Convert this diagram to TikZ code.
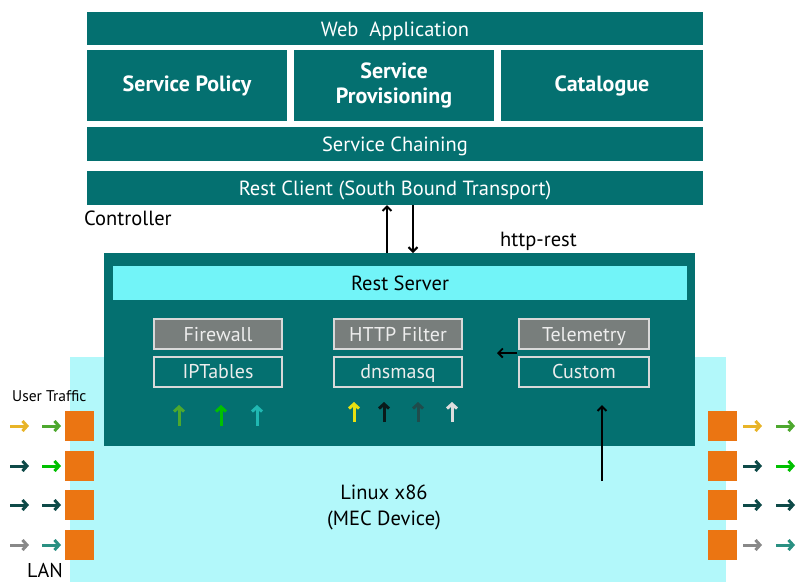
\documentclass[tikz,border=0pt]{standalone}
\usepackage{fontspec}
\setmainfont{PT Sans}
\usetikzlibrary{arrows.meta}
\definecolor{teal1}{HTML}{047070}
\definecolor{lcyan}{HTML}{B2F8FA}
\definecolor{mcyan}{HTML}{72F4F8}
\definecolor{gbox}{HTML}{787E7C}
\definecolor{gline}{HTML}{D9D9D9}
\definecolor{orng}{HTML}{EB7512}
\definecolor{cyel}{HTML}{E8B428}
\definecolor{cgrn}{HTML}{4DA82E}
\definecolor{cgrn2}{HTML}{00C000}
\definecolor{cdark}{HTML}{0E4A48}
\definecolor{cgray}{HTML}{888888}
\definecolor{cteal}{HTML}{2A9082}
\definecolor{cturq}{HTML}{20B8B2}
\definecolor{cyel2}{HTML}{E8E010}
\definecolor{cblk}{HTML}{0A1A1A}
\definecolor{cdt}{HTML}{1F4C4C}
\definecolor{clg}{HTML}{DDDDDD}
\tikzset{
  box/.style={fill=teal1, text=white, inner sep=0pt, outer sep=0pt, anchor=north west, align=center, font=\fontsize{20.5}{23}\selectfont, text height=15pt, text depth=0pt},
  boldbox/.style={box, font=\fontsize{22}{25}\selectfont\bfseries, text height=, text depth=},
  inbox/.style={draw=gline, line width=2pt, inner sep=0pt, outer sep=0pt, text=white!93!black, minimum width=128pt, minimum height=30pt, font=\fontsize{20}{22}\selectfont, text height=14pt, text depth=0pt},
  arr/.style={-{Straight Barb[length=4.5pt,width=9pt]}, line width=2pt, black},
  sarr/.style={-{Straight Barb[length=4.5pt,width=10pt]}, line width=3pt},
  lbl/.style={inner sep=0pt, font=\fontsize{20.5}{26}\selectfont},
  sq/.style={fill=orng, inner sep=0pt, outer sep=0pt, minimum width=29pt, minimum height=30pt, anchor=north west}
}
\begin{document}
\begin{tikzpicture}[x=1pt,y=-1pt]
\useasboundingbox (0,0) rectangle (805,582);
% background
\fill[lcyan] (70,357) rectangle (726,582);
% controller stack
\node[box, minimum width=616pt, minimum height=33pt] (web) at (87,12) {Web\ \ Application};
\node[boldbox, minimum width=200pt, minimum height=71pt] (pol) at (87,50) {Service Policy};
\node[boldbox, minimum width=200pt, minimum height=71pt] (prov) at (294,50) {Service\\Provisioning};
\node[boldbox, minimum width=202pt, minimum height=71pt] (cat) at (501,50) {Catalogue};
\node[box, minimum width=616pt, minimum height=34pt] (chain) at (87,127) {Service Chaining};
\node[box, minimum width=616pt, minimum height=34pt] (rc) at (87,171) {Rest Client (South Bound Transport)};
\node[lbl, anchor=west] (ctl) at (84,218) {Controller};
\node[lbl, anchor=west] (http) at (500,241) {http-rest};
% MEC box
\node[fill=teal1, inner sep=0pt, outer sep=0pt, anchor=north west, minimum width=591pt, minimum height=193pt] (mec) at (104,253) {};
\node[fill=mcyan, inner sep=0pt, outer sep=0pt, anchor=north west, minimum width=574pt, minimum height=34pt, font=\fontsize{20.5}{23}\selectfont, text height=15pt, text depth=0pt] (rs) at (113,266) {Rest Server};
\draw[arr] (mec.north -| 387,0) -- (rc.south -| 387,0);
\draw[arr] (rc.south -| 413,0) -- (mec.north -| 413,0);
% inner boxes
\node[inbox, fill=gbox] (fw) at (218,334) {Firewall};
\node[inbox, fill=teal1] (ipt) at (218,371.5) {IPTables};
\node[inbox, fill=gbox] (hf) at (398,334) {HTTP Filter};
\node[inbox, fill=teal1] (dns) at (398,371.5) {dnsmasq};
\node[inbox, fill=gbox, minimum width=130pt] (tel) at (584,334) {Telemetry};
\node[inbox, fill=teal1, minimum width=130pt] (cus) at (584,371.5) {Custom};
\coordinate (la) at (497,353);
\draw[arr, line width=1.8pt] (tel.west |- la) ++(-2,0) -- (la);
\coordinate (ua) at (602,405);
\draw[arr] (602,481) -- (ua);
% small arrows
\draw[sarr, cgrn] (179,426) -- (179,405);
\draw[sarr, cgrn2] (221,426) -- (221,405);
\draw[sarr, cturq] (257,426) -- (257,405);
\draw[sarr, cyel2] (354,422) -- (354,402);
\draw[sarr, cblk] (384,422) -- (384,402);
\draw[sarr, cdt] (418,422) -- (418,402);
\draw[sarr, clg] (452,422) -- (452,402);
% text
\node[lbl, align=center] (lx) at (384,507) {Linux x86\\(MEC Device)};
\node[inner sep=0pt, font=\fontsize{15.5}{18}\selectfont, anchor=west] (ut) at (12,396) {User Traffic};
\node[inner sep=0pt, font=\fontsize{20}{22}\selectfont, anchor=base west] (lan) at (27,577) {LAN};
% orange squares
\foreach \y/\n in {411/1,451/2,490/3,530/4}{
  \node[sq] (l\n) at (65,\y) {};
  \node[sq] (r\n) at (708,\y) {};
}
% traffic arrows
\foreach \n/\ca/\cb in {1/cyel/cgrn, 2/cdark/cgrn2, 3/cdark/cdark, 4/cgray/cteal}{
  \draw[sarr, \ca] ([xshift=-55pt]l\n.west) -- ++(19,0);
  \draw[sarr, \cb] ([xshift=-23pt]l\n.west) -- ++(19,0);
  \draw[sarr, \ca] ([xshift=6pt]r\n.east) -- ++(19,0);
  \draw[sarr, \cb] ([xshift=39pt]r\n.east) -- ++(19,0);
}
\end{tikzpicture}
\end{document}
